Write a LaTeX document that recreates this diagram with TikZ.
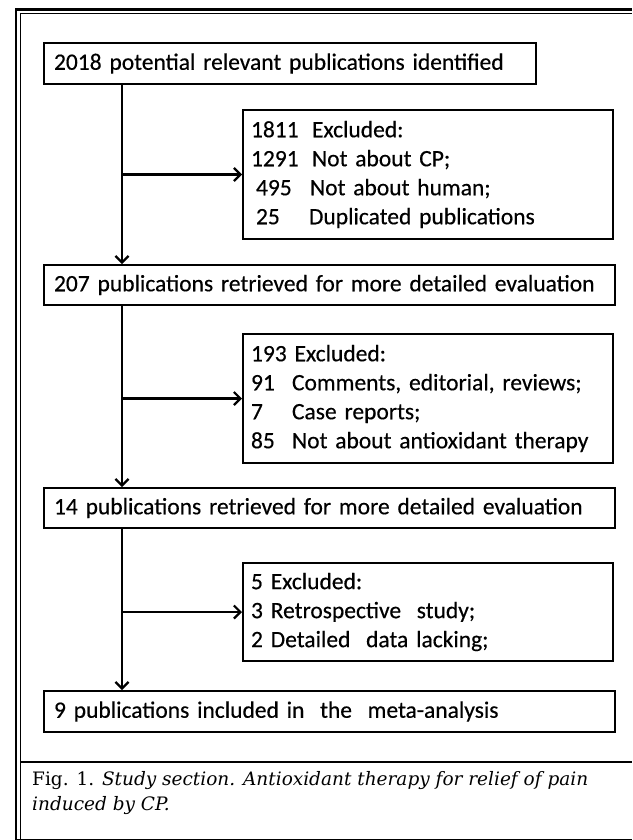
\documentclass[tikz,border=0pt]{standalone}
\usepackage{fontspec}
\newfontfamily\boxfont[FakeBold=0.4]{Carlito}
\newfontfamily\capfont{DejaVu Serif}
\usetikzlibrary{arrows.meta}

\begin{document}
\begin{tikzpicture}[x=1pt, y=-1pt,
	box/.style = {draw, line width=2pt, anchor=north west, align=left,
		inner xsep=10pt, inner ysep=0pt,
		font=\boxfont\fontsize{23.5}{29}\selectfont},
	arr/.style = {line width=2.2pt, -{Straight Barb[length=6.5pt, width=13pt]}}]
	\useasboundingbox (0,0) rectangle (632,840);
	% frame round the figure
	\draw[line width=2.6pt] (16,840)--(16,9.5)--(632,9.5);
	\draw[line width=0.8pt] (20,840)--(20,13.5)--(632,13.5);
	\draw[line width=2.2pt] (20,762)--(632,762);
	\draw[line width=1.2pt] (16,839.4)--(632,839.4);
	\node[anchor=north west, align=left, inner sep=0pt, font=\capfont\fontsize{18.5}{25}\selectfont]
		(caption) at (32,771) {Fig. 1. \textit{Study section. Antioxidant therapy for relief of pain}\\
		\textit{induced by CP.}};
	% boxes
	\node[box, text width=472pt, minimum height=41pt] (ident) at (43,42)
		{2018 potential relevant publications identified};
	\node[box, text width=354pt, minimum height=129pt, inner xsep=8pt] (exclA) at (242,109)
		{\makebox[61pt][l]{1811}Excluded:\\
		 \makebox[61pt][l]{1291}Not about CP;\\
		 \hspace{5pt}\makebox[54pt][l]{495}Not about human;\\
		 \hspace{5pt}\makebox[53pt][l]{25}Duplicated publications};
	\node[box, text width=551pt, minimum height=40pt] (retrA) at (43,264)
		{207 publications retrieved for more detailed evaluation};
	\node[box, text width=354pt, minimum height=129pt, inner xsep=8pt] (exclB) at (242,333)
		{193 Excluded:\\
		 \makebox[41pt][l]{91}Comments, editorial, reviews;\\
		 \makebox[41pt][l]{7}Case reports;\\
		 \makebox[41pt][l]{85}Not about antioxidant therapy};
	\node[box, text width=551pt, minimum height=40pt] (retrB) at (43,487)
		{14 publications retrieved for more detailed evaluation};
	\node[box, text width=354pt, minimum height=98pt, inner xsep=8pt] (exclC) at (242,562)
		{5 Excluded:\\
		 3 Retrospective\ \ study;\\
		 2 Detailed\ \ data lacking;};
	\node[box, text width=551pt, minimum height=41pt] (incl) at (43,690)
		{9 publications included in\ \ the\ \ meta-analysis};
	% connectors
	\coordinate (trunk) at (122,0);
	\draw[arr] (ident.south -| trunk) -- (retrA.north -| trunk);
	\draw[arr] (exclA.west -| trunk) -- (exclA.west);
	\draw[arr] (retrA.south -| trunk) -- (retrB.north -| trunk);
	\draw[arr] (exclB.west -| trunk) -- (exclB.west);
	\draw[arr] (retrB.south -| trunk) -- (incl.north -| trunk);
	\draw[arr] (exclC.west -| trunk) -- (exclC.west);
\end{tikzpicture}
\end{document}
